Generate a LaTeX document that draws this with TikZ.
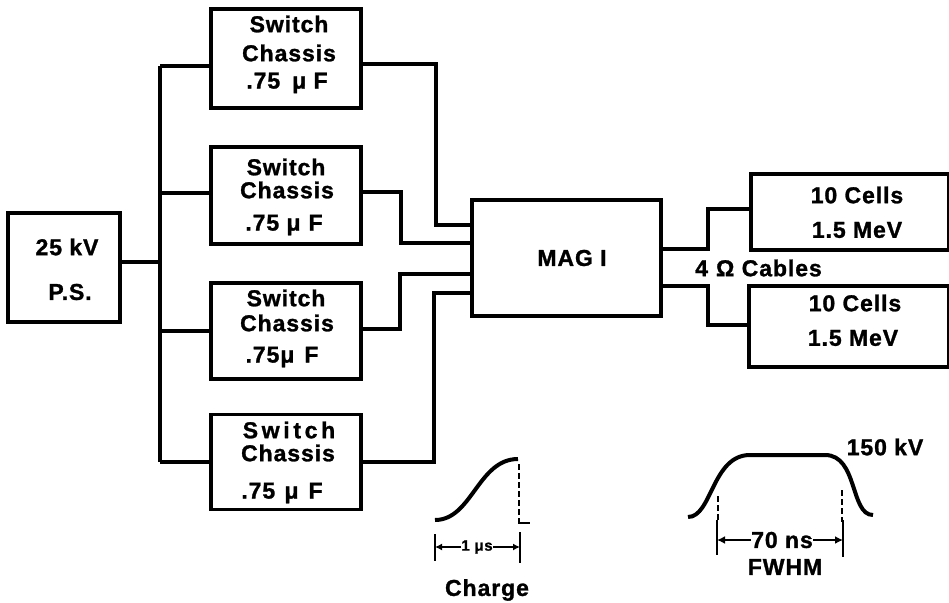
\documentclass[tikz,border=0pt]{standalone}
\usepackage{fontspec}
\setmainfont{Liberation Sans}[LetterSpace=4,BoldFeatures={FakeBold=1.2}]
\usetikzlibrary{arrows.meta}
\begin{document}
\begin{tikzpicture}[x=1pt,y=-1pt,
  box/.style={draw,line width=3.5pt,inner sep=0pt},
  wire/.style={line width=3.5pt},
  lbl/.style={inner sep=0pt,font=\fontsize{23}{27}\selectfont\bfseries},
  small/.style={inner sep=0pt,font=\fontsize{15}{17}\selectfont\bfseries},
  thin/.style={line width=2.4pt},
  dsh/.style={line width=2.6pt,dash pattern=on 6pt off 3pt}]
\useasboundingbox[fill=white] (0,0) rectangle (949,602);
% boxes
\node[box,minimum width=112pt,minimum height=109pt] (ps) at (64,267.5) {};
\node[box,minimum width=150pt,minimum height=99pt] (sw1) at (286,58.5) {};
\node[box,minimum width=150pt,minimum height=97pt] (sw2) at (286,195.5) {};
\node[box,minimum width=150pt,minimum height=96pt] (sw3) at (286,331) {};
\node[box,minimum width=150pt,minimum height=95pt] (sw4) at (286,462) {};
\node[box,minimum width=189pt,minimum height=116pt] (mag) at (566.5,258) {};
\node[box,minimum width=198pt,minimum height=76pt] (c1) at (850,212) {};
\node[box,minimum width=200pt,minimum height=81pt] (c2) at (849,326.5) {};
% texts
\node[lbl] (pst1) at (67,247) {25 kV};
\node[lbl] (pst2) at (70,292) {P.S.};
\node[lbl] (s1a) at (289,24) {Switch};
\node[lbl] (s1b) at (289,53) {Chassis};
\node[lbl] (s1c) at (287,83) {.75\hspace{12pt}μ F};
\node[lbl] (s2a) at (286,167) {Switch};
\node[lbl] (s2b) at (287,190) {Chassis};
\node[lbl] (s2c) at (284,225) {.75 μ\hspace{8pt}F};
\node[lbl] (s3a) at (286,298) {Switch};
\node[lbl] (s3b) at (287,323) {Chassis};
\node[lbl] (s3c) at (282,357) {.75μ\hspace{10pt}F};
\node[lbl] (s4a) at (289,430) {\addfontfeatures{LetterSpace=16}Switch};
\node[lbl] (s4b) at (288,453) {Chassis};
\node[lbl] (s4c) at (282,493) {.75 \hspace{2pt}μ\hspace{10pt}F};
\node[lbl] (magt) at (572,258) {MAG I};
\node[lbl] (c1a) at (857,195) {10 Cells};
\node[lbl] (c1b) at (857,230) {1.5 MeV};
\node[lbl] (c2a) at (855,303) {10 Cells};
\node[lbl] (c2b) at (853,338) {1.5 MeV};
\node[lbl,anchor=west] (cab) at (695,268) {4\hspace{8pt}Ω Cables};
% bus
\coordinate (bt) at (160,66);
\coordinate (bb) at (160,462);
\draw[wire] (bt) -- (bb);
\draw[wire] (ps.east |- 0,262) -- (160,262);
\draw[wire] (bt) -- (sw1.west |- 0,66);
\draw[wire] (160,193) -- (sw2.west |- 0,193);
\draw[wire] (160,331) -- (sw3.west |- 0,331);
\draw[wire] (bb) -- (sw4.west |- 0,462);
% to MAG
\draw[wire] (sw1.east |- 0,64) -| (436,225) -- (mag.west |- 0,225);
\draw[wire] (sw2.east |- 0,192) -| (401,243) -- (mag.west |- 0,243);
\draw[wire] (sw3.east |- 0,329) -| (400,274) -- (mag.west |- 0,274);
\draw[wire] (sw4.east |- 0,462) -| (434,293) -- (mag.west |- 0,293);
% to cells
\draw[wire] (mag.east |- 0,249) -| (708,209) -- (c1.west |- 0,209);
\draw[wire] (mag.east |- 0,286) -| (708,325) -- (c2.west |- 0,325);
% charge waveform
\draw[line width=4pt] (435,520) .. controls (472,520) and (478,459) .. (518,459);
\draw[dsh] (519,464) -- (519,523);
\draw[thin] (518,523) -- (530,523);
\node[small] (one) at (477,547) {1 μs};
\coordinate (cl1) at (435,534); \coordinate (cl2) at (435,561);
\coordinate (cr1) at (520,532); \coordinate (cr2) at (520,563);
\draw[thin] (cl1) -- (cl2);
\draw[thin] (cr1) -- (cr2);
\draw[thin,-{Latex[length=7pt,width=7pt]}] (one.west) -- (cl1 |- one.west);
\draw[thin,-{Latex[length=7pt,width=7pt]}] (one.east) -- (cr1 |- one.east);
\node[lbl] (chg) at (487,590) {Charge};
% pulse waveform
\draw[line width=4pt] (688,517) .. controls (712,517) and (712,455) .. (750,455) -- (825,455) .. controls (858,455) and (850,515) .. (873,515);
\draw[dsh] (718,496) -- (718,522);
\draw[dsh] (842,490) -- (842,522);
\coordinate (pl1) at (717,520); \coordinate (pl2) at (717,555);
\coordinate (pr1) at (843,520); \coordinate (pr2) at (843,557);
\draw[thin] (pl1) -- (pl2);
\draw[thin] (pr1) -- (pr2);
\node[lbl] (seventy) at (782,540) {70 ns};
\draw[thin,-{Latex[length=8pt,width=8pt]}] (seventy.west) -- (pl1 |- seventy.west);
\draw[thin,-{Latex[length=8pt,width=8pt]}] (seventy.east) -- (pr1 |- seventy.east);
\node[lbl] (fwhm) at (785,567) {FWHM};
\node[lbl] (kv) at (885,447) {150 kV};
\end{tikzpicture}
\end{document}
